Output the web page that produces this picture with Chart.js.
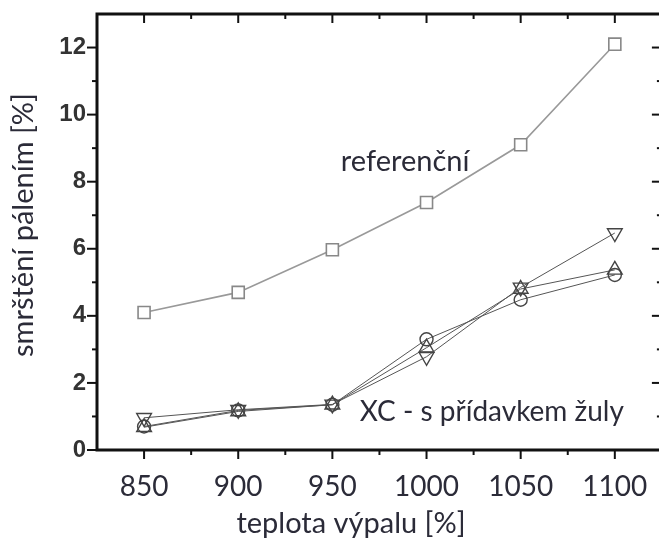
<!DOCTYPE html>
<html>
<head>
<meta charset="utf-8">
<script src="https://cdn.jsdelivr.net/npm/chart.js@4.4.1/dist/chart.umd.min.js"></script>
<style>
html,body{margin:0;padding:0;background:#fff;overflow:hidden;width:659px;height:549px;}
#wrap{position:relative;width:672px;height:549px;}
</style>
</head>
<body>
<div id="wrap"><canvas id="c" width="672" height="549"></canvas></div>
<script>
const temps = [850, 900, 950, 1000, 1050, 1100];
const refValues = [4.1, 4.7, 5.97, 7.38, 9.1, 12.1];
const downTriValues = [0.96, 1.2, 1.36, 2.78, 4.85, 6.47];
const upTriValues = [0.68, 1.15, 1.35, 3.05, 4.8, 5.37];
const circleValues = [0.7, 1.18, 1.35, 3.3, 4.48, 5.22];
const xMajorTicks = [850, 900, 950, 1000, 1050, 1100];
const xMinorTicks = [875, 925, 975, 1025, 1075];
const yMajorTicks = [0, 2, 4, 6, 8, 10, 12];
const yMinorTicks = [1, 3, 5, 7, 9, 11];
const xTitle = 'teplota výpalu [%]';
const yTitle = 'smrštění pálením [%]';
const labelRef = 'referenční';
const labelXC = 'XC - s přídavkem žuly';

const TXT = '#2b2b38';
const FONT = 'Lato, "Open Sans", sans-serif';

function pts(vals){ return temps.map((t,i)=>({x:t,y:vals[i]})); }

const framePlugin = {
  id:'frame',
  afterDatasetsDraw(chart){
    const {ctx, chartArea:a, scales:{x,y}} = chart;
    ctx.save();
    ctx.strokeStyle = '#111';
    ctx.lineCap = 'butt';
    ctx.lineWidth = 2;
    const tick = (x1,y1,x2,y2)=>{ctx.beginPath();ctx.moveTo(x1,y1);ctx.lineTo(x2,y2);ctx.stroke();};
    xMajorTicks.forEach(v=>{const px=x.getPixelForValue(v); tick(px,a.bottom,px,a.bottom+9); tick(px,a.top,px,a.top+9);});
    xMinorTicks.forEach(v=>{const px=x.getPixelForValue(v); tick(px,a.bottom,px,a.bottom+5); tick(px,a.top,px,a.top+5);});
    yMajorTicks.forEach(v=>{const py=y.getPixelForValue(v); tick(a.left-10,py,a.left,py); tick(a.right-10,py,a.right,py);});
    yMinorTicks.forEach(v=>{const py=y.getPixelForValue(v); tick(a.left-5,py,a.left,py); tick(a.right-5,py,a.right,py);});
    ctx.lineWidth = 3;
    ctx.beginPath();
    ctx.moveTo(a.left, a.bottom); ctx.lineTo(a.left, a.top); ctx.lineTo(a.right+2, a.top);
    ctx.moveTo(a.left-1.5, a.bottom); ctx.lineTo(a.right+2, a.bottom);
    ctx.stroke();
    ctx.fillStyle = TXT;
    ctx.textBaseline = 'middle';
    ctx.textAlign = 'left';
    ctx.font = '29px ' + FONT;
    ctx.fillText(labelRef, x.getPixelForValue(954.5), y.getPixelForValue(8.59));
    ctx.font = '28px ' + FONT;
    ctx.fillText(labelXC, x.getPixelForValue(964.5), y.getPixelForValue(1.13));
    ctx.textAlign = 'center';
    ctx.font = '29px ' + FONT;
    ctx.fillText(xTitle, 351, 524);
    ctx.save();
    ctx.translate(24, 225);
    ctx.rotate(-Math.PI/2);
    ctx.font = '29px ' + FONT;
    ctx.fillText(yTitle, 0, 0);
    ctx.restore();
    ctx.restore();
  }
};

const lowerLine = '#555';
const lowerMark = '#444';

new Chart(document.getElementById('c'), {
  type: 'line',
  data: {
    datasets: [
      {label:'ref', data: pts(refValues), borderColor:'#999', borderWidth:1.6,
       pointStyle:'rect', pointRadius:8.5, pointBorderColor:'#888', pointBorderWidth:1.6, pointBackgroundColor:'#fff'},
      {label:'down', data: pts(downTriValues), borderColor:lowerLine, borderWidth:1,
       pointStyle:'triangle', pointRotation:180, pointRadius:8.5, pointBorderColor:lowerMark, pointBorderWidth:1.4, pointBackgroundColor:'rgba(255,255,255,0)'},
      {label:'up', data: pts(upTriValues), borderColor:lowerLine, borderWidth:1,
       pointStyle:'triangle', pointRadius:8.5, pointBorderColor:lowerMark, pointBorderWidth:1.4, pointBackgroundColor:'rgba(255,255,255,0)'},
      {label:'circ', data: pts(circleValues), borderColor:lowerLine, borderWidth:1,
       pointStyle:'circle', pointRadius:6.5, pointBorderColor:lowerMark, pointBorderWidth:1.4, pointBackgroundColor:'rgba(255,255,255,0)'}
    ]
  },
  options: {
    responsive:false, animation:false,
    layout:{padding:{top:14, right:5, left:0, bottom:0}},
    plugins:{legend:{display:false}, tooltip:{enabled:false}},
    elements:{line:{tension:0}},
    scales:{
      x:{type:'linear', min:825, max:1125,
        afterBuildTicks(s){ s.ticks = xMajorTicks.map(v=>({value:v})); },
        afterFit(s){ s.height = 99; s.paddingLeft = 0; s.paddingRight = 0; },
        grid:{display:false, drawTicks:false},
        border:{display:false},
        ticks:{padding:20, color:TXT, font:{family:FONT, size:28}, maxRotation:0, autoSkip:false,
          callback:(v)=>String(v)}
      },
      y:{type:'linear', min:0, max:13,
        afterBuildTicks(s){ s.ticks = yMajorTicks.map(v=>({value:v})); },
        afterFit(s){ s.width = 97; s.paddingTop = 0; s.paddingBottom = 0; },
        grid:{display:false, drawTicks:false},
        border:{display:false},
        ticks:{padding:11, color:'#333', font:{family:'"Liberation Sans", Arial, sans-serif', size:24, weight:'bold'},
          callback:(v)=>String(v)}
      }
    }
  },
  plugins:[framePlugin]
});
</script>
</body>
</html>
